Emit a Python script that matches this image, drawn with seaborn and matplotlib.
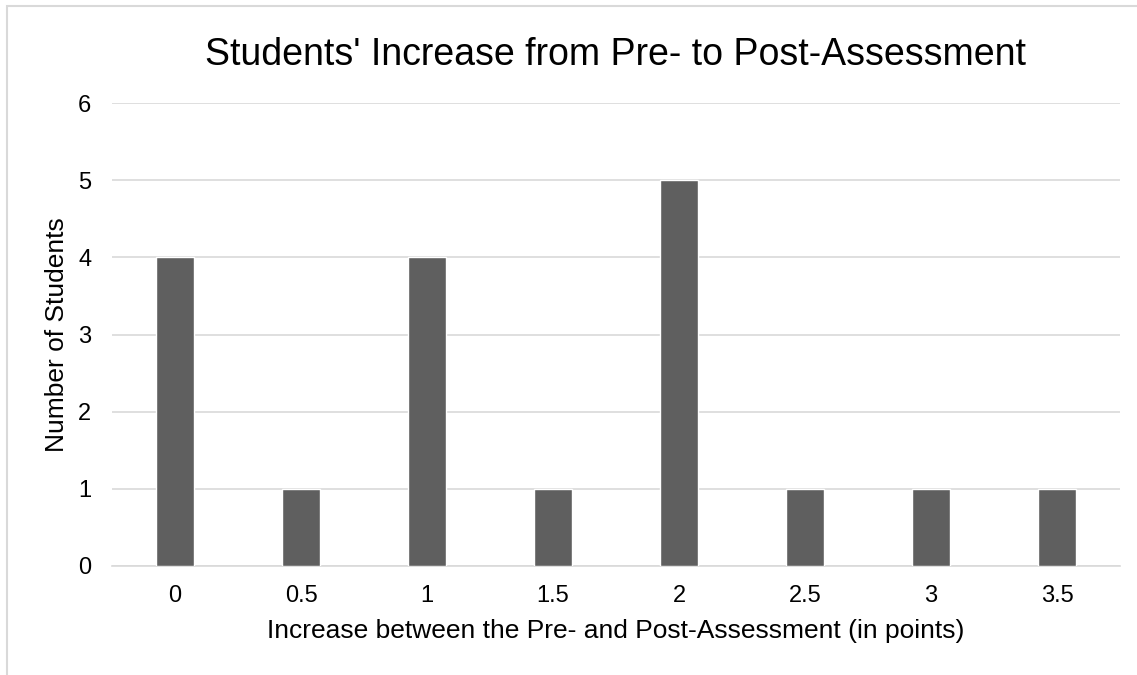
import matplotlib
matplotlib.use("Agg")
import matplotlib.pyplot as plt
import seaborn as sns
import pandas as pd

# Score increase categories and student counts
increases = ["0", "0.5", "1", "1.5", "2", "2.5", "3", "3.5"]
students = [4, 1, 4, 1, 5, 1, 1, 1]
y_ticks = [0, 1, 2, 3, 4, 5, 6]

sns.set_theme(style="white")
plt.rcParams["font.family"] = ["Liberation Sans", "DejaVu Sans"]
plt.rcParams["text.color"] = "#000000"
plt.rcParams["axes.labelcolor"] = "#000000"

df = pd.DataFrame({"increase": increases, "students": students})

fig = plt.figure(figsize=(11.37, 6.75), dpi=100)
ax = fig.add_axes([112 / 1137, 1 - 566 / 675, (1120 - 112) / 1137, (566 - 103) / 675])

sns.barplot(data=df, x="increase", y="students", order=increases,
            color="#5f5f5f", saturation=1, width=0.3, ax=ax, zorder=3)

ax.set_ylim(0, 6)
ax.set_yticks(y_ticks)
ax.set_xlim(-0.5, len(increases) - 0.5)
ax.yaxis.grid(True, color="#d9d9d9", linewidth=1.2, zorder=0)
ax.set_axisbelow(True)
for side in ["top", "right", "left"]:
    ax.spines[side].set_visible(False)
ax.spines["bottom"].set_color("#d9d9d9")
ax.spines["bottom"].set_linewidth(1.2)
ax.tick_params(axis="both", length=0, labelsize=17, colors="#000000")
ax.tick_params(axis="x", pad=14)
ax.tick_params(axis="y", pad=15)

ax.set_xlabel("Increase between the Pre- and Post-Assessment (in points)", fontsize=19)
ax.set_ylabel("Number of Students", fontsize=19)
ax.xaxis.set_label_coords(0.5, (566 - 619) / 463)
ax.yaxis.set_label_coords((69 - 112) / 1008, 0.5)
fig.text(ax.get_position().x0 + ax.get_position().width / 2, 1 - 55 / 675,
         "Students' Increase from Pre- to Post-Assessment",
         ha="center", va="center", fontsize=27, color="#000000")

# Outer chart frame
frame = plt.Rectangle((7 / 1137, -0.01), 1.02, 1 - 6 / 675 + 0.01, transform=fig.transFigure,
                      fill=False, edgecolor="#d9d9d9", linewidth=1.5)
fig.patches.append(frame)

fig.savefig("out.png", dpi=100)
